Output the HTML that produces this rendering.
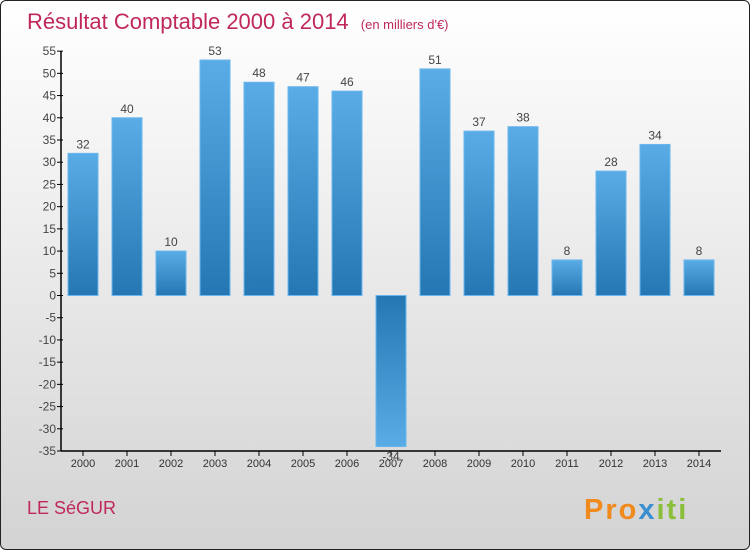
<!DOCTYPE html>
<html><head><meta charset="utf-8"><style>
body{margin:0;width:750px;height:550px;overflow:hidden;font-family:"Liberation Sans",sans-serif}
#frame{position:absolute;left:0;top:0;width:748px;height:548px;border:1px solid #222;border-radius:6px;background:linear-gradient(#ffffff,#f2f2f2 30%,#d3d3d3)}
</style></head><body>
<div id="frame">
<svg width="750" height="550" id="svg">
<defs>
<linearGradient id="gp" x1="0" y1="0" x2="0" y2="1"><stop offset="0" stop-color="#5aace6"/><stop offset="1" stop-color="#2577b3"/></linearGradient>
<linearGradient id="gn" x1="0" y1="0" x2="0" y2="1"><stop offset="0" stop-color="#2577b3"/><stop offset="1" stop-color="#5aace6"/></linearGradient>
</defs>
<text x="26" y="28" font-size="22" fill="#c0285a">Résultat Comptable 2000 à 2014 <tspan font-size="13" dx="6">(en milliers d'€)</tspan></text>
<text x="26" y="513" font-size="18" fill="#c0285a">LE SéGUR</text>
<text x="583" y="518" font-size="29" font-weight="bold" letter-spacing="2"><tspan fill="#f08a1c">Pro</tspan><tspan fill="#3a8fd0">x</tspan><tspan fill="#8bbf3a">iti</tspan></text>
<g id="plot"></g>
</svg></div>
<script>
const years=["2000","2001","2002","2003","2004","2005","2006","2007","2008","2009","2010","2011","2012","2013","2014"];
const values=[32,40,10,53,48,47,46,-34,51,37,38,8,28,34,8];
const yTicks=[55,50,45,40,35,30,25,20,15,10,5,0,-5,-10,-15,-20,-25,-30,-35];
const NS="http://www.w3.org/2000/svg";
const g=document.getElementById('plot');
const y=v=>294.5-v*(155.5/35);
const x=i=>82+i*44;
function mk(t,a){const e=document.createElementNS(NS,t);for(const k in a)e.setAttribute(k,a[k]);g.appendChild(e);return e;}
let ax=mk('line',{x1:60,y1:y(55),x2:60,y2:450,stroke:'#000','stroke-width':1.5});


let xa=mk('line',{x1:60,y1:450,x2:720,y2:450,stroke:'#000','stroke-width':1.5});


yTicks.forEach(v=>{
 mk('line',{x1:56,x2:62,y1:y(v),y2:y(v),stroke:'#000'});
 const t=mk('text',{x:55,y:y(v)+4,'text-anchor':'end','font-size':12,fill:'#444'});
 t.textContent=String(v);
 
 
});
values.forEach((v,i)=>{
 const top=Math.min(y(v),y(0)),h=Math.abs(y(v)-y(0));
 const r=mk('rect',{x:x(i)-15,y:top,width:30,height:h,fill:v>=0?'url(#gp)':'url(#gn)',stroke:'#6bb6ec','stroke-width':1});
 
 
 mk('line',{x1:x(i),x2:x(i),y1:450,y2:455,stroke:'#000'});
 const xl=mk('text',{x:x(i),y:466,'text-anchor':'middle','font-size':11,fill:'#333'});
 xl.textContent=years[i];
 
 
 const vl=mk('text',{x:x(i),y:v>=0?y(v)-5:y(v)+14,'text-anchor':'middle','font-size':12,fill:'#444'});
 vl.textContent=v;
 
 
});
</script>
</body></html>
